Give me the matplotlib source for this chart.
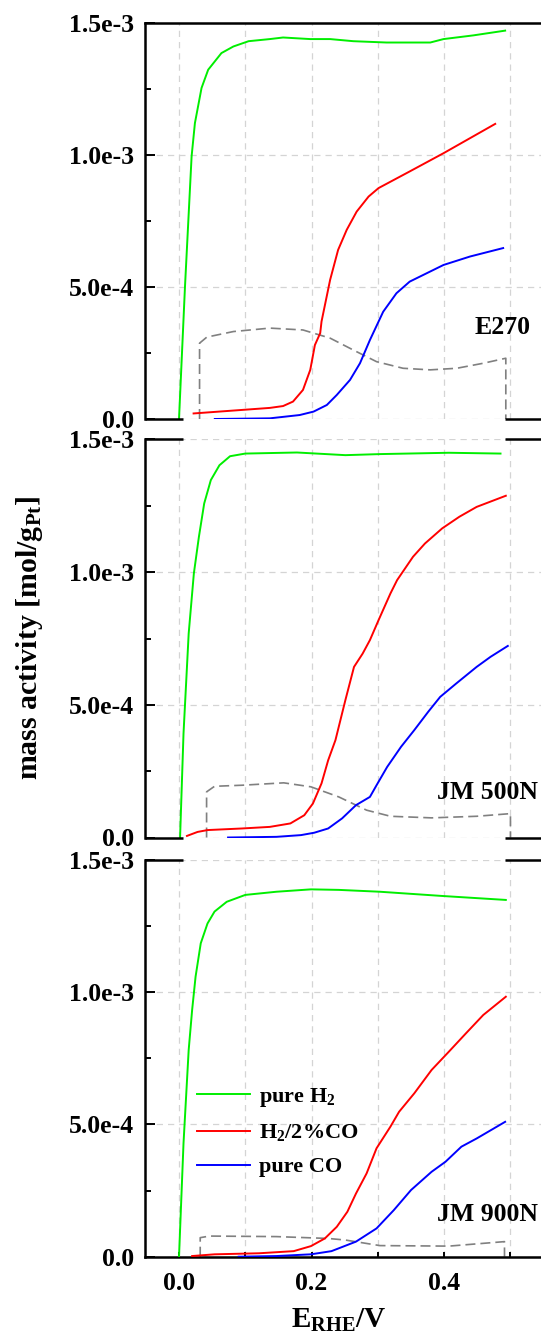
import matplotlib
matplotlib.use("Agg")
import matplotlib.pyplot as plt
from matplotlib.ticker import MultipleLocator

plt.rcParams['font.family'] = ['Liberation Serif', 'DejaVu Serif']
plt.rcParams['font.weight'] = 'bold'
plt.rcParams['mathtext.fontset'] = 'custom'
plt.rcParams['mathtext.rm'] = 'Liberation Serif:bold'
plt.rcParams['mathtext.it'] = 'Liberation Serif:bold'
plt.rcParams['mathtext.bf'] = 'Liberation Serif:bold'
plt.rcParams['mathtext.default'] = 'rm'

# ---------------- data ----------------
panel_names = ["E270", "JM 500N", "JM 900N"]
legend_labels = ["pure H$_2$", "H$_2$/2%CO", "pure CO"]
ytick_vals = [0.0, 5e-4, 1e-3, 1.5e-3]
ytick_labels = ["0.0", "5.0e-4", "1.0e-3", "1.5e-3"]
xtick_vals = [0.0, 0.2, 0.4]
xtick_labels = ["0.0", "0.2", "0.4"]

# E270
e270_h2_x = [0.0, 0.009, 0.019, 0.024, 0.034, 0.044, 0.064, 0.082, 0.105, 0.137, 0.157, 0.198, 0.228, 0.263, 0.313, 0.379, 0.399, 0.444, 0.492]
e270_h2_y = [0.0, 5.0e-4, 9.94e-4, 1.12e-3, 1.253e-3, 1.322e-3, 1.385e-3, 1.41e-3, 1.43e-3, 1.438e-3, 1.444e-3, 1.438e-3, 1.438e-3, 1.43e-3, 1.425e-3, 1.425e-3, 1.438e-3, 1.452e-3, 1.47e-3]
e270_mix_x = [0.022, 0.137, 0.157, 0.172, 0.187, 0.198, 0.205, 0.213, 0.215, 0.228, 0.240, 0.253, 0.268, 0.286, 0.301, 0.348, 0.399, 0.477]
e270_mix_y = [2.1e-5, 4.2e-5, 4.9e-5, 6.6e-5, 1.1e-4, 1.86e-4, 2.8e-4, 3.25e-4, 3.69e-4, 5.27e-4, 6.4e-4, 7.16e-4, 7.85e-4, 8.42e-4, 8.74e-4, 9.37e-4, 1.006e-3, 1.117e-3]
e270_co_x = [0.054, 0.137, 0.182, 0.203, 0.223, 0.238, 0.258, 0.273, 0.288, 0.308, 0.328, 0.348, 0.399, 0.439, 0.489]
e270_co_y = [0.0, 2.5e-6, 1.5e-5, 2.8e-5, 5.3e-5, 9.1e-5, 1.48e-4, 2.11e-4, 2.99e-4, 4.06e-4, 4.76e-4, 5.2e-4, 5.83e-4, 6.15e-4, 6.47e-4]
e270_ref_x = [0.031, 0.031, 0.042, 0.082, 0.137, 0.187, 0.228, 0.263, 0.298, 0.338, 0.379, 0.419, 0.459, 0.493, 0.493]
e270_ref_y = [0.0, 2.87e-4, 3.1e-4, 3.31e-4, 3.44e-4, 3.37e-4, 3.06e-4, 2.61e-4, 2.17e-4, 1.92e-4, 1.86e-4, 1.92e-4, 2.11e-4, 2.3e-4, 0.0]

# JM 500N
jm5_h2_x = [0.0016, 0.0068, 0.0146, 0.0224, 0.030, 0.038, 0.048, 0.061, 0.077, 0.100, 0.178, 0.251, 0.303, 0.407, 0.485]
jm5_h2_y = [0.0, 3.92e-4, 7.69e-4, 9.95e-4, 1.133e-3, 1.259e-3, 1.347e-3, 1.403e-3, 1.437e-3, 1.447e-3, 1.451e-3, 1.441e-3, 1.445e-3, 1.45e-3, 1.447e-3]
jm5_mix_x = [0.012, 0.028, 0.043, 0.095, 0.137, 0.168, 0.189, 0.202, 0.215, 0.225, 0.236, 0.251, 0.264, 0.277, 0.288, 0.301, 0.319, 0.329, 0.353, 0.371, 0.397, 0.423, 0.449, 0.493]
jm5_mix_y = [6e-6, 2.1e-5, 2.8e-5, 3.4e-5, 4.0e-5, 5.3e-5, 8.4e-5, 1.28e-4, 2.04e-4, 2.91e-4, 3.67e-4, 5.18e-4, 6.43e-4, 6.93e-4, 7.44e-4, 8.19e-4, 9.2e-4, 9.7e-4, 1.058e-3, 1.108e-3, 1.165e-3, 1.209e-3, 1.246e-3, 1.288e-3]
jm5_co_x = [0.074, 0.147, 0.184, 0.204, 0.225, 0.246, 0.267, 0.288, 0.298, 0.314, 0.335, 0.355, 0.376, 0.394, 0.418, 0.449, 0.470, 0.496]
jm5_co_y = [0.0, 2.5e-6, 9e-6, 1.8e-5, 3.4e-5, 7.2e-5, 1.22e-4, 1.53e-4, 1.97e-4, 2.66e-4, 3.42e-4, 4.05e-4, 4.74e-4, 5.3e-4, 5.8e-4, 6.43e-4, 6.81e-4, 7.22e-4]
jm5_ref_x = [0.0416, 0.0416, 0.0536, 0.095, 0.158, 0.199, 0.241, 0.283, 0.319, 0.381, 0.449, 0.500, 0.500]
jm5_ref_y = [0.0, 1.72e-4, 1.93e-4, 1.97e-4, 2.06e-4, 1.91e-4, 1.53e-4, 1.03e-4, 8.0e-5, 7.4e-5, 8.0e-5, 9.0e-5, 0.0]

# JM 900N
jm9_h2_x = [0.0, 0.0068, 0.0146, 0.0198, 0.025, 0.0328, 0.043, 0.0536, 0.072, 0.100, 0.147, 0.199, 0.241, 0.303, 0.397, 0.493]
jm9_h2_y = [0.0, 4.29e-4, 7.82e-4, 9.33e-4, 1.059e-3, 1.185e-3, 1.26e-3, 1.305e-3, 1.342e-3, 1.368e-3, 1.38e-3, 1.389e-3, 1.387e-3, 1.38e-3, 1.364e-3, 1.349e-3]
jm9_mix_x = [0.0198, 0.0536, 0.121, 0.173, 0.199, 0.220, 0.238, 0.254, 0.267, 0.283, 0.298, 0.319, 0.332, 0.355, 0.381, 0.407, 0.433, 0.459, 0.493]
jm9_mix_y = [2.5e-6, 9e-6, 1.3e-5, 2.1e-5, 4.0e-5, 6.9e-5, 1.13e-4, 1.7e-4, 2.39e-4, 3.15e-4, 4.1e-4, 4.92e-4, 5.48e-4, 6.18e-4, 7.06e-4, 7.75e-4, 8.45e-4, 9.14e-4, 9.83e-4]
jm9_co_x = [0.090, 0.147, 0.199, 0.230, 0.267, 0.298, 0.324, 0.350, 0.381, 0.402, 0.426, 0.449, 0.492]
jm9_co_y = [0.0, 2.5e-6, 9e-6, 2.1e-5, 5.7e-5, 1.07e-4, 1.76e-4, 2.52e-4, 3.21e-4, 3.59e-4, 4.16e-4, 4.47e-4, 5.1e-4]
jm9_ref_x = [0.032, 0.032, 0.046, 0.147, 0.225, 0.251, 0.303, 0.407, 0.491, 0.491]
jm9_ref_y = [0.0, 7.2e-5, 7.8e-5, 7.6e-5, 6.9e-5, 6.3e-5, 4.2e-5, 4.0e-5, 5.7e-5, 0.0]

panels = [
    (e270_h2_x, e270_h2_y, e270_mix_x, e270_mix_y, e270_co_x, e270_co_y, e270_ref_x, e270_ref_y),
    (jm5_h2_x, jm5_h2_y, jm5_mix_x, jm5_mix_y, jm5_co_x, jm5_co_y, jm5_ref_x, jm5_ref_y),
    (jm9_h2_x, jm9_h2_y, jm9_mix_x, jm9_mix_y, jm9_co_x, jm9_co_y, jm9_ref_x, jm9_ref_y),
]
label_pos = [(0.531, 3.48e-4), (0.541, 1.71e-4), (0.541, 1.58e-4)]

# ---------------- layout ----------------
W, H = 541, 1335
fig = plt.figure(figsize=(W / 100, H / 100), dpi=100)
left_px, right_px = 145, 543.6
rows_px = [(22.7, 419), (439.5, 837.5), (860, 1256.7)]
xlim = (-0.0513, 0.55)

col_h2, col_mix, col_co, col_ref = '#00ee00', '#ff0000', '#0000ff', '#808080'
lw = 1.4

axes = []
for i, (t, b) in enumerate(rows_px):
    ax = fig.add_axes([left_px / W, 1 - b / H, (right_px - left_px) / W, (b - t) / H])
    axes.append(ax)
    hx, hy, mx, my, cx, cy, rx, ry = panels[i]
    ax.plot(rx, ry, color=col_ref, lw=1.2, ls=(0, (6, 3)), zorder=2)
    l1, = ax.plot(hx, hy, color=col_h2, lw=lw, zorder=3, label=legend_labels[0])
    l2, = ax.plot(mx, my, color=col_mix, lw=lw, zorder=3, label=legend_labels[1])
    l3, = ax.plot(cx, cy, color=col_co, lw=lw, zorder=3, label=legend_labels[2])
    ax.set_xlim(*xlim)
    ax.set_ylim(0, 1.5e-3)
    ax.set_yticks(ytick_vals)
    ax.set_yticklabels(ytick_labels)
    ax.yaxis.set_minor_locator(MultipleLocator(2.5e-4))
    ax.set_xticks(xtick_vals)
    ax.xaxis.set_minor_locator(MultipleLocator(0.1))
    ax.tick_params(axis='y', which='major', direction='in', length=7, width=1.4,
                   labelsize=18.5, pad=8)
    ax.tick_params(axis='y', which='minor', direction='in', length=4.5, width=1.4)
    ax.tick_params(axis='x', which='both', direction='in', length=3.5, width=1.4,
                   labelsize=18.5, pad=11)
    for lab in ax.get_yticklabels():
        lab.set_fontweight('bold')
    ax.grid(True, which='major', axis='y', color='#d4d4d4', ls=(0, (5, 4)), lw=0.9)
    ax.grid(True, which='both', axis='x', color='#d4d4d4', ls=(0, (5, 4)), lw=0.9)
    ax.set_axisbelow(True)
    ax.spines['right'].set_visible(False)
    for s in ('left', 'top', 'bottom'):
        ax.spines[s].set_linewidth(1.8)
    segs = [(0.0, 0.095), (0.902, 1.0)]
    if i > 0:
        ax.spines['top'].set_visible(False)
        for a0, a1 in segs:
            ax.plot([a0, a1], [1, 1], transform=ax.transAxes, color='k', lw=1.8,
                    clip_on=False, solid_capstyle='butt', zorder=5)
    if i < 2:
        ax.spines['bottom'].set_visible(False)
        for a0, a1 in segs:
            ax.plot([a0, a1], [0, 0], transform=ax.transAxes, color='k', lw=1.8,
                    clip_on=False, solid_capstyle='butt', zorder=5)
        ax.tick_params(axis='x', which='both', length=0, labelbottom=False)
    else:
        ax.set_xticklabels(xtick_labels)
        for lab in ax.get_xticklabels():
            lab.set_fontweight('bold')
    ax.text(label_pos[i][0], label_pos[i][1], panel_names[i], ha='right', va='center',
            fontsize=18.5, fontweight='bold')
    if i == 2:
        ax.legend(handles=[l1, l2, l3], loc='upper left', bbox_to_anchor=(0.13, 0.43),
                  frameon=False, handlelength=2.4, handletextpad=0.4,
                  labelspacing=0.6, borderaxespad=0, borderpad=0,
                  prop={'weight': 'bold', 'size': 16})

fig.text(30 / W, 1 - 637.5 / H, 'mass activity [mol/g$_{\\mathrm{Pt}}$]', rotation=90,
         ha='center', va='center', fontsize=21.5, fontweight='bold')
fig.text(339 / W, 1 - 1328 / H, 'E$_{\\mathrm{RHE}}$/V', ha='center', va='baseline',
         fontsize=21, fontweight='bold')

fig.savefig('out.png', dpi=100)
